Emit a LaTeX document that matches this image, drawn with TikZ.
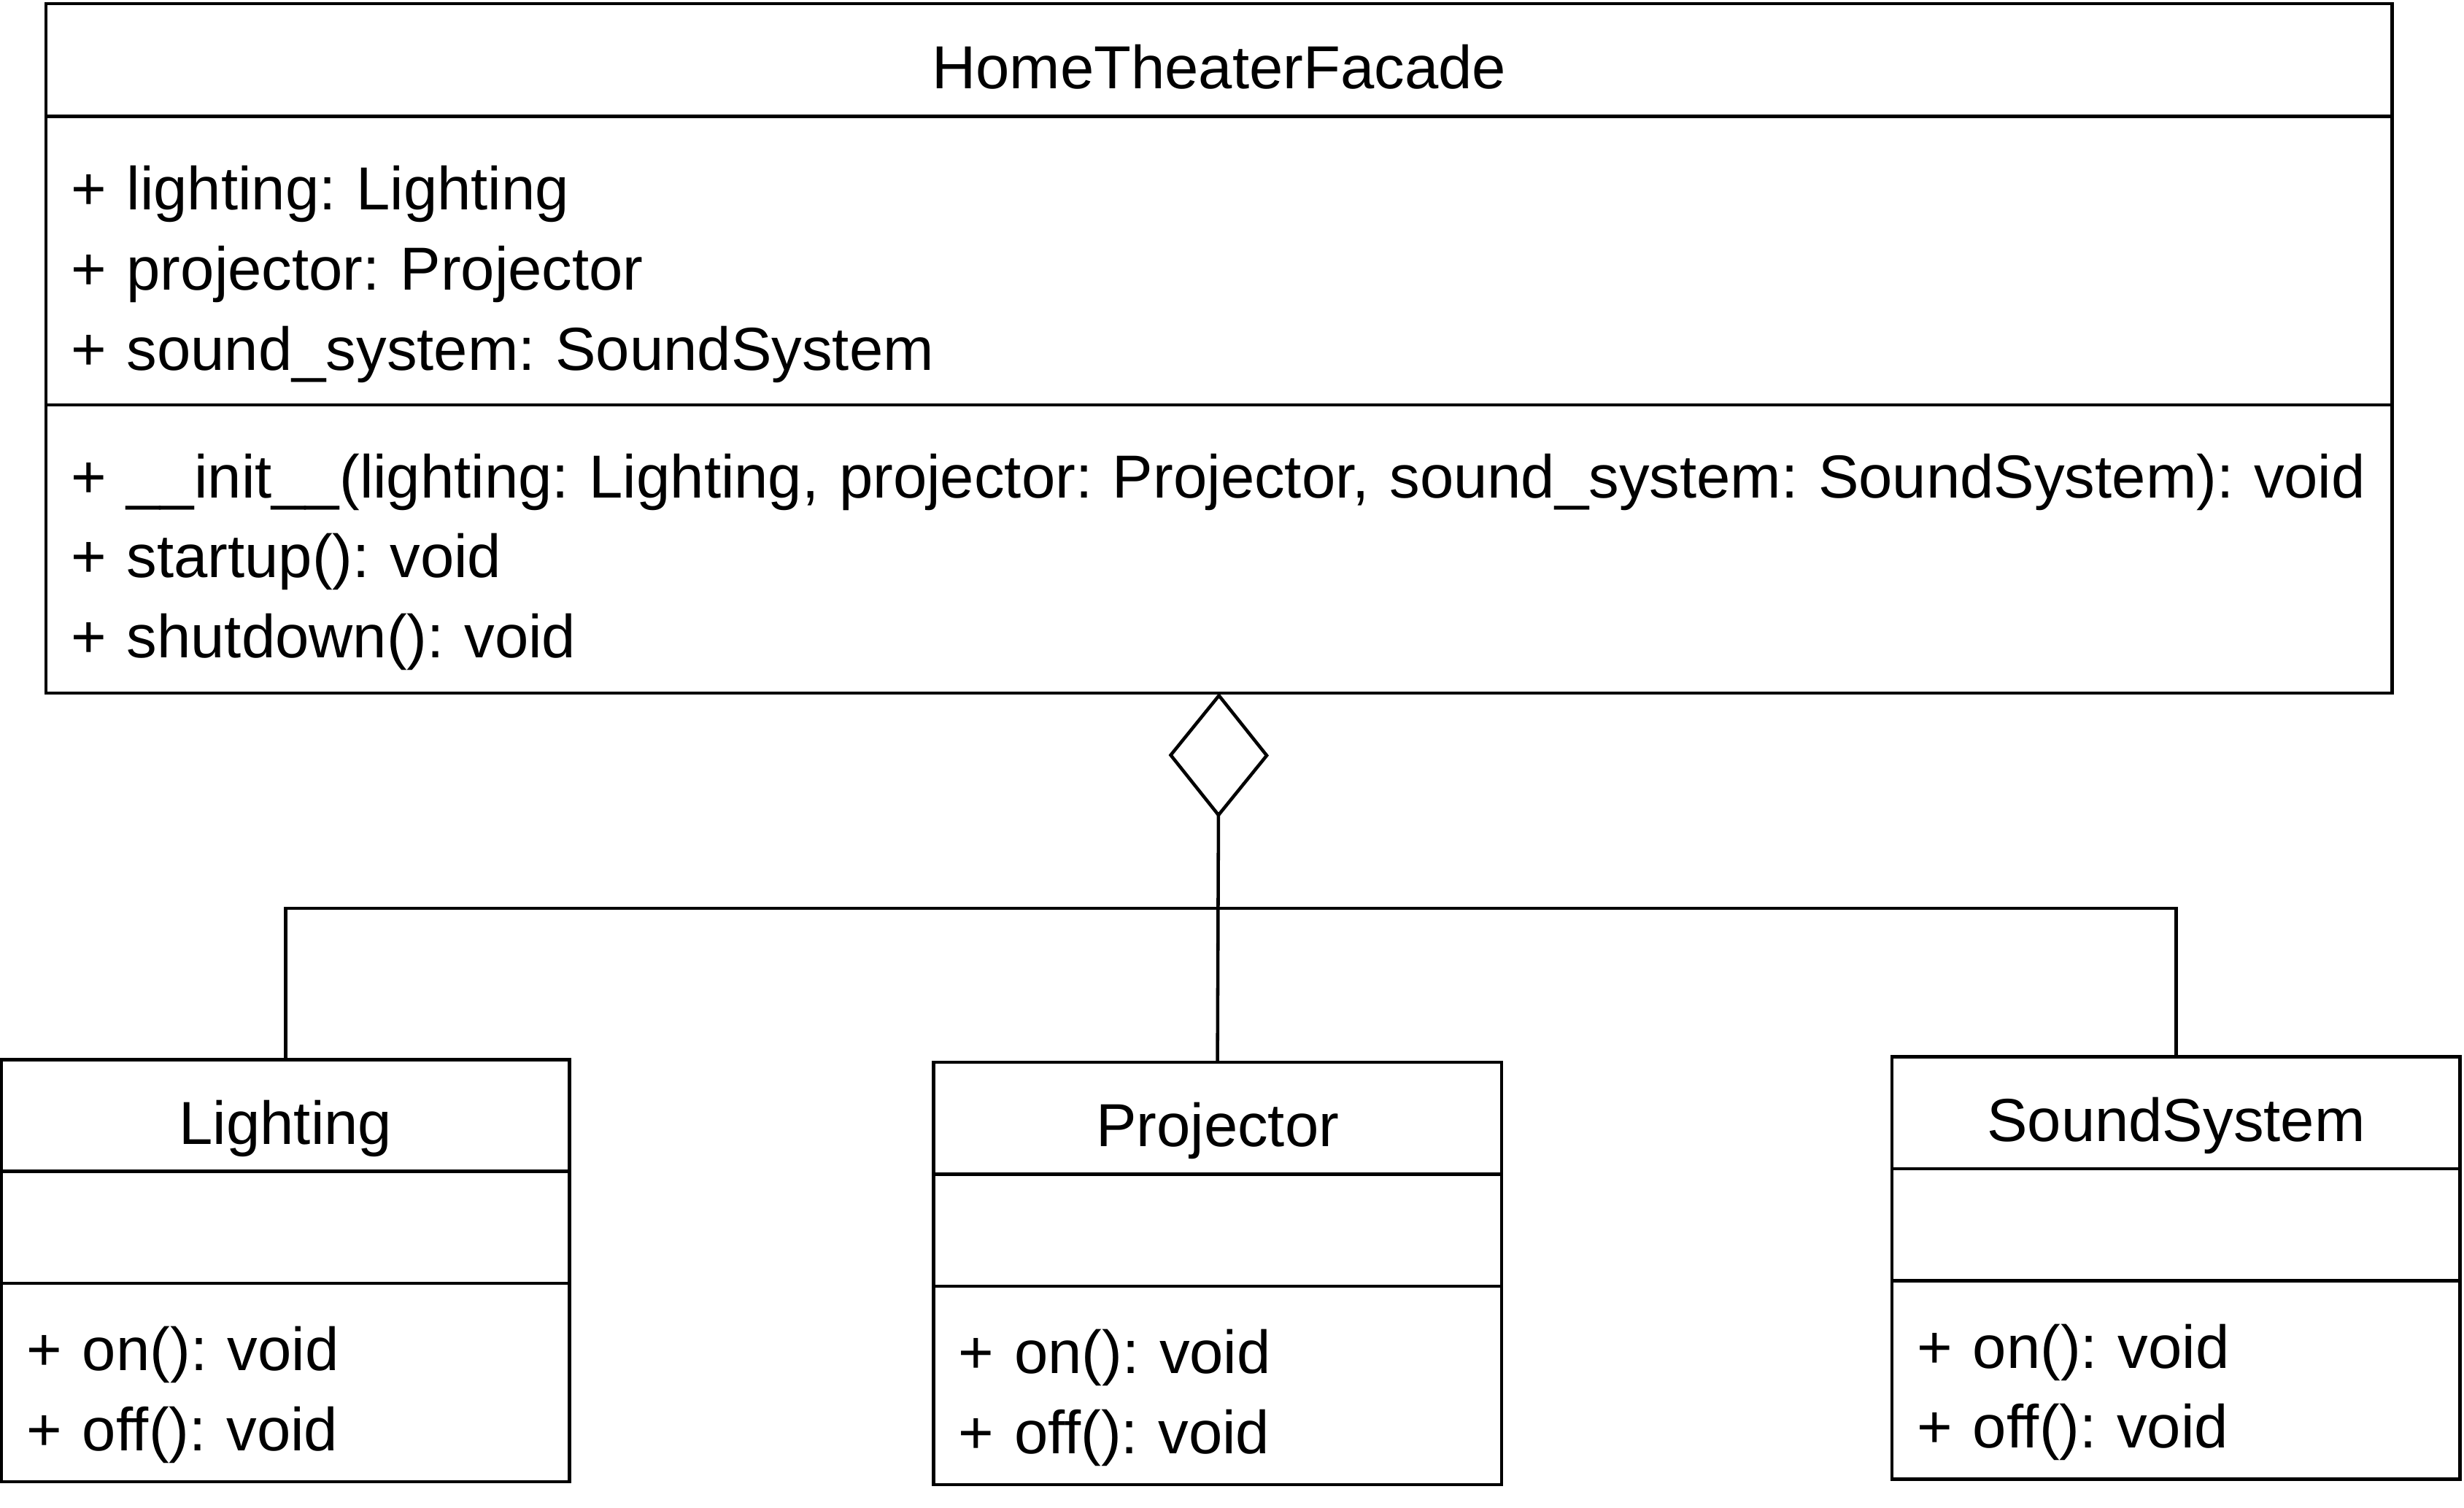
\documentclass[tikz,border=0pt]{standalone}
\usepackage{fontspec}
\setmainfont{Liberation Sans}
\usetikzlibrary{arrows.meta, positioning}
\frenchspacing

\begin{document}
\begin{tikzpicture}[every node/.style={font=\fontsize{11}{14.5}\selectfont},
  box/.style={draw, line width=0.6pt, inner sep=0pt, outer sep=0pt},
  head/.style={box, text height=10.4pt, text depth=0pt},
  members/.style={box, align=left, text height=10pt},
  link/.style={line width=0.6pt}]
  \useasboundingbox (0,0) rectangle (15.68,9.593);
  % widths
  \def\bigW{14.93cm}
  \def\smallW{3.615cm}
  % facade class
  \node[head, minimum width=\bigW, minimum height=0.716cm, anchor=north west] (ht) at (0.292,9.569) {HomeTheaterFacade};
  \node[members, below=0pt of ht, minimum width=\bigW, minimum height=1.837cm, text width=14.61cm, text depth=28.3pt] (htAttr)
    {+ lighting: Lighting\\+ projector: Projector\\+ sound\_system: SoundSystem};
  \node[members, below=0pt of htAttr, minimum width=\bigW, minimum height=1.833cm, text width=14.61cm, text depth=28.6pt] (htOps)
    {+ \_\_init\_\_(lighting: Lighting, projector: Projector, sound\_system: SoundSystem): void\\+ startup(): void\\+ shutdown(): void};
  % subsystem classes
  \node[head, minimum width=\smallW, minimum height=0.712cm, anchor=north west] (lt) at (0.01,2.850) {Lighting};
  \node[box, below=0pt of lt, minimum width=\smallW, minimum height=0.713cm] (ltAttr) {};
  \node[members, below=0pt of ltAttr, minimum width=\smallW, minimum height=1.263cm, text width=3.295cm, text depth=14.3pt] (ltOps)
    {+ on(): void\\+ off(): void};
  \node[head, minimum width=\smallW, minimum height=0.712cm, anchor=north west] (pj) at (5.94,2.833) {Projector};
  \node[box, below=0pt of pj, minimum width=\smallW, minimum height=0.713cm] (pjAttr) {};
  \node[members, below=0pt of pjAttr, minimum width=\smallW, minimum height=1.263cm, text width=3.295cm, text depth=14.3pt] (pjOps)
    {+ on(): void\\+ off(): void};
  \node[head, minimum width=\smallW, minimum height=0.712cm, anchor=north west] (ss) at (12.04,2.867) {SoundSystem};
  \node[box, below=0pt of ss, minimum width=\smallW, minimum height=0.713cm] (ssAttr) {};
  \node[members, below=0pt of ssAttr, minimum width=\smallW, minimum height=1.263cm, text width=3.295cm, text depth=14.3pt] (ssOps)
    {+ on(): void\\+ off(): void};
  % aggregation
  \draw[link, -{Diamond[open, length=0.794cm, width=0.638cm]}] (pj.north) -- (htOps.south);
  \draw[link] (lt.north) -- ++(0,0.962) -| (ss.north);
\end{tikzpicture}
\end{document}
